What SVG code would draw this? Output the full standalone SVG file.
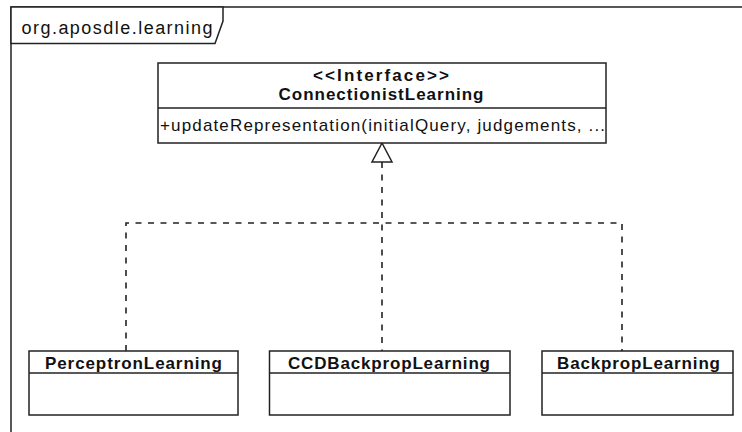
<svg xmlns="http://www.w3.org/2000/svg" width="742" height="432" viewBox="0 0 742 432">
  <style>
    .box { fill: #ffffff; stroke: #222222; stroke-width: 1.5; }
    .sep { stroke: #222222; stroke-width: 1.5; }
    .dep { fill: none; stroke: #222222; stroke-width: 1.6; stroke-dasharray: 6 6.5; }
    .head { fill: #ffffff; stroke: #222222; stroke-width: 1.5; }
    .t { font-family: "Liberation Sans", Arial, sans-serif; fill: #111111; }
    .b { font-weight: bold; font-size: 17px; }
    .r { font-size: 17px; }
    .f { font-size: 18px; }
  </style>
  <rect width="742" height="432" fill="#ffffff"/>

  <!-- package frame -->
  <g id="package">
    <rect x="11" y="7" width="745" height="440" fill="none" stroke="#222222" stroke-width="1.5"/>
    <polygon points="11,7 223,7 223,21 215,43.5 11,43.5" class="box"/>
    <text x="21.5" y="34" class="t f" textLength="191" lengthAdjust="spacing">org.aposdle.learning</text>
  </g>

  <!-- realization connectors -->
  <g id="connectors">
    <polyline class="dep" points="126,351 126,223 622,223 622,351"/>
    <line class="dep" x1="382" y1="162" x2="382" y2="351"/>
    <polygon class="head" points="382,143 372,162 392,162"/>
  </g>

  <g id="ConnectionistLearning">
    <rect x="158" y="63" width="448" height="80" class="box"/>
    <line x1="158" y1="108" x2="606" y2="108" class="sep"/>
    <text x="381" y="81" text-anchor="middle" class="t b" textLength="136" lengthAdjust="spacing">&lt;&lt;Interface&gt;&gt;</text>
    <text x="381" y="100" text-anchor="middle" class="t b" textLength="205" lengthAdjust="spacing">ConnectionistLearning</text>
    <text x="160" y="131" class="t r" textLength="445" lengthAdjust="spacing">+updateRepresentation(initialQuery, judgements, ...</text>
  </g>

  <g id="PerceptronLearning">
    <rect x="29" y="351" width="209" height="64" class="box"/>
    <line x1="29" y1="373" x2="238" y2="373" class="sep"/>
    <text x="133.5" y="369" text-anchor="middle" class="t b" textLength="177" lengthAdjust="spacing">PerceptronLearning</text>
  </g>

  <g id="CCDBackpropLearning">
    <rect x="269.5" y="351" width="240.5" height="64" class="box"/>
    <line x1="269.5" y1="373" x2="510" y2="373" class="sep"/>
    <text x="389" y="369" text-anchor="middle" class="t b" textLength="202" lengthAdjust="spacing">CCDBackpropLearning</text>
  </g>

  <g id="BackpropLearning">
    <rect x="542" y="351" width="191" height="64" class="box"/>
    <line x1="542" y1="373" x2="733" y2="373" class="sep"/>
    <text x="638.5" y="369" text-anchor="middle" class="t b" textLength="163" lengthAdjust="spacing">BackpropLearning</text>
  </g>
</svg>
